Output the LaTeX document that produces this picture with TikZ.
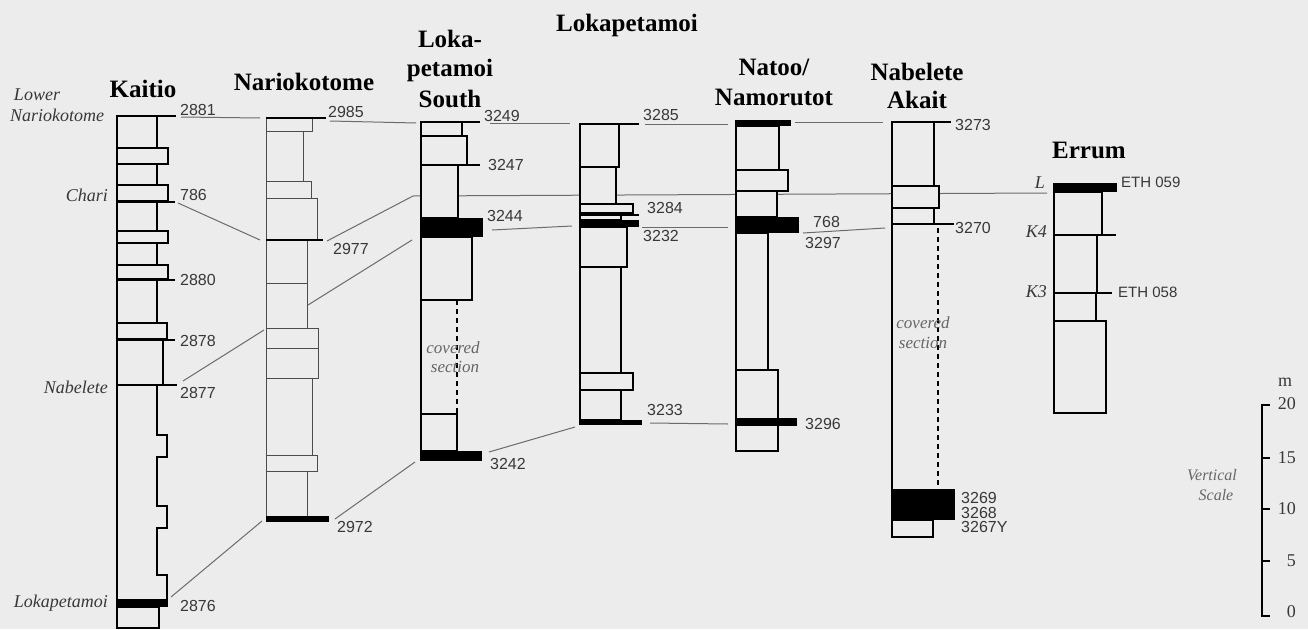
\documentclass[tikz,border=0pt]{standalone}
\usepackage{fontspec}
\setmainfont{Liberation Serif}
\setsansfont{Liberation Sans}
\definecolor{bg}{gray}{0.925}
\definecolor{lbl}{gray}{0.22}
\definecolor{corrc}{gray}{0.42}
\tikzset{
  bed/.style={draw=black, fill=bg, line width=1.3pt},
  nbed/.style={draw=black!70, fill=bg, line width=0.9pt},
  marker/.style={draw=black, line width=2.8pt},
  thinmarker/.style={draw=black, line width=1.8pt},
  band/.style={fill=black},
  corr/.style={draw=corrc, line width=1pt},
  coverline/.style={draw=black, line width=1.6pt, dash pattern=on 5pt off 4pt},
  title/.style={font=\fontsize{25}{29}\selectfont\bfseries, anchor=base, inner sep=0pt},
  num/.style={font=\sffamily\fontsize{16}{16}\selectfont, text=lbl, anchor=west, inner sep=0pt},
  eth/.style={font=\sffamily\fontsize{15}{15}\selectfont, text=lbl, anchor=west, inner sep=0pt},
  place/.style={font=\itshape\fontsize{18}{18}\selectfont, text=lbl, anchor=east, inner sep=0pt},
  cov/.style={font=\itshape\fontsize{17}{17}\selectfont, text=black!60, inner sep=0pt},
  scalenum/.style={font=\fontsize{18}{18}\selectfont, text=lbl, anchor=east, inner sep=0pt},
}
\begin{document}
\begin{tikzpicture}[x=1pt,y=-1pt]
\fill[bg] (0,0) rectangle (1308,629);
\useasboundingbox (0,0) rectangle (1308,629);

% ---------- correlation line end points ----------
\coordinate (c1a) at (181,117);  \coordinate (c1b) at (260,118);
\coordinate (c2a) at (330,121);  \coordinate (c2b) at (416,123);
\coordinate (c3a) at (490,123);  \coordinate (c3b) at (570,123);
\coordinate (c4a) at (645,124);  \coordinate (c4b) at (728,124);
\coordinate (c5a) at (795,122);  \coordinate (c5b) at (883,122);
\coordinate (c6a) at (178,203);  \coordinate (c6b) at (260,240);
\coordinate (c7a) at (327,241);  \coordinate (c7b) at (413,196); \coordinate (c7c) at (1047,193);
\coordinate (c8a) at (308,305);  \coordinate (c8b) at (412,240);
\coordinate (c9a) at (183,381);  \coordinate (c9b) at (264,330);
\coordinate (c10a) at (171,597); \coordinate (c10b) at (262,521);
\coordinate (c11a) at (335,519); \coordinate (c11b) at (415,462);
\coordinate (c12a) at (489,452); \coordinate (c12b) at (575,427);
\coordinate (c13a) at (650,423); \coordinate (c13b) at (728,424);
\coordinate (c14a) at (492,230); \coordinate (c14b) at (572,226);
\coordinate (c15a) at (642,227); \coordinate (c15b) at (728,227);
\coordinate (c16a) at (803,233); \coordinate (c16b) at (885,228);

\draw[corr] (c1a) -- (c1b);
\draw[corr] (c2a) -- (c2b);
\draw[corr] (c3a) -- (c3b);
\draw[corr] (c4a) -- (c4b);
\draw[corr] (c5a) -- (c5b);
\draw[corr] (c6a) -- (c6b);
\draw[corr] (c7a) -- (c7b) -- (c7c);
\draw[corr] (c8a) -- (c8b);
\draw[corr] (c9a) -- (c9b);
\draw[corr] (c10a) -- (c10b);
\draw[corr] (c11a) -- (c11b);
\draw[corr] (c12a) -- (c12b);
\draw[corr] (c13a) -- (c13b);
\draw[corr] (c14a) -- (c14b);
\draw[corr] (c15a) -- (c15b);
\draw[corr] (c16a) -- (c16b);

% ---------- Kaitio ----------
\draw[bed] (117,116) rectangle (157,148);
\draw[bed] (117,148) rectangle (168,164);
\draw[bed] (117,164) rectangle (157,185);
\draw[bed] (117,185) rectangle (168,201);
\draw[bed] (117,201) rectangle (157,231);
\draw[bed] (117,231) rectangle (168,243);
\draw[bed] (117,243) rectangle (157,265);
\draw[bed] (117,265) rectangle (168,279);
\draw[bed] (117,279) rectangle (157,323);
\draw[bed] (117,323) rectangle (167,339);
\draw[bed] (117,339) rectangle (163,385);
\draw[bed] (117,385) -- (157,385) -- (157,435) -- (167,435) -- (167,457) -- (157,457)
  -- (157,506) -- (167,506) -- (167,528) -- (157,528) -- (157,575) -- (167,575)
  -- (167,600) -- (117,600) -- cycle;
\draw[bed] (117,607) rectangle (159,628);
\fill[band] (116.3,600) rectangle (168,607);
\draw[marker] (116.3,116) -- (176,116);
\draw[marker] (116.3,202) -- (175,202);
\draw[marker] (116.3,280) -- (175,280);
\draw[marker] (116.3,340) -- (175,340);
\draw[marker] (116.3,385) -- (177,385);

% ---------- Nariokotome ----------
\draw[nbed] (266,118) rectangle (312,131);
\draw[nbed] (266,131) rectangle (303,181);
\draw[nbed] (266,181) rectangle (311,198);
\draw[nbed] (266,198) rectangle (317,240);
\draw[nbed] (266,240) rectangle (307,283);
\draw[nbed] (266,283) rectangle (307,328);
\draw[nbed] (266,328) rectangle (318,348);
\draw[nbed] (266,348) rectangle (318,378);
\draw[nbed] (266,378) rectangle (312,455);
\draw[nbed] (266,455) rectangle (317,471);
\draw[nbed] (266,471) rectangle (307,516);
\fill[band] (265.5,515.5) rectangle (329,522);
\draw[marker] (265.5,118) -- (326,118);
\draw[marker] (265.5,240) -- (323,240);

% ---------- Lokapetamoi South ----------
\draw[bed] (421,122) rectangle (462,136);
\draw[bed] (421,136) rectangle (467,165);
\draw[bed] (421,165) rectangle (458,218);
\draw[bed] (421,237) rectangle (472,300);
\draw[bed] (421,414) rectangle (457,451);
\draw[bed] (421,300) -- (421,414);
\draw[coverline] (457,300) -- (457,414);
\fill[band] (420.3,218) rectangle (483,237);
\fill[band] (420.3,451) rectangle (482,461);
\draw[marker] (420.3,122) -- (480,122);
\draw[thinmarker] (420.3,136) -- (467,136);
\draw[marker] (420.3,165) -- (480,165);

% ---------- Lokapetamoi ----------
\draw[bed] (580,124) rectangle (619,167);
\draw[bed] (580,167) rectangle (616,204);
\draw[bed] (580,204) rectangle (633,213);
\draw[bed] (580,215) rectangle (621,220);
\draw[bed] (580,227) rectangle (627,267);
\draw[bed] (580,267) rectangle (621,373);
\draw[bed] (580,373) rectangle (633,390);
\draw[bed] (580,390) rectangle (621,420);
\fill[band] (579.3,219.5) rectangle (639,227);
\fill[band] (579.3,419.5) rectangle (642,424.5);
\draw[marker] (579.3,124) -- (639,124);
\draw[thinmarker] (579.3,215) -- (639,215);

% ---------- Natoo / Namorutot ----------
\draw[bed] (736,126) rectangle (779,170);
\draw[bed] (736,170) rectangle (788,191);
\draw[bed] (736,191) rectangle (777,217);
\draw[bed] (736,233) rectangle (768,370);
\draw[bed] (736,370) rectangle (778,451);
\fill[band] (735.3,120) rectangle (791,126);
\fill[band] (735.3,217) rectangle (799,233);
\fill[band] (735.3,418) rectangle (797,426);

% ---------- Nabelete Akait ----------
\draw[bed] (892,122) rectangle (934,186);
\draw[bed] (892,186) rectangle (939,208);
\draw[bed] (892,208) rectangle (934,224);
\draw[bed] (892,224) -- (892,489);
\draw[coverline] (938,228) -- (938,489);
\draw[bed] (892,520) rectangle (933,537);
\fill[band] (891.3,489) rectangle (955,520);
\draw[marker] (891.3,122) -- (951,122);
\draw[marker] (891.3,224) -- (954,224);

% ---------- Errum ----------
\draw[bed] (1054,192) rectangle (1102,235);
\draw[bed] (1054,235) rectangle (1097,293);
\draw[bed] (1054,293) rectangle (1096,321);
\draw[bed] (1054,321) rectangle (1106,413);
\fill[band] (1053.3,183) rectangle (1117,192);
\draw[thinmarker] (1053.3,235) -- (1116,235);
\draw[marker] (1053.3,293) -- (1112,293);

% ---------- vertical scale ----------
\draw[line width=1.3pt] (1270,405) -- (1262,405) -- (1262,616) -- (1270,616);
\draw[line width=1.3pt] (1262,458) -- (1270,458);
\draw[line width=1.3pt] (1262,509) -- (1270,509);
\draw[line width=1.3pt] (1262,561) -- (1270,561);
\node[scalenum] (s20) at (1296,404) {20};
\node[scalenum] (s15) at (1296,458) {15};
\node[scalenum] (s10) at (1296,509) {10};
\node[scalenum] (s5) at (1296,561) {5};
\node[scalenum] (s0) at (1296,612) {0};
\node[font=\fontsize{18}{18}\selectfont, text=lbl, inner sep=0pt] (sm) at (1285,382) {m};
\node[cov, font=\itshape\fontsize{16}{16}\selectfont] (vs1) at (1212,475) {Vertical};
\node[cov, font=\itshape\fontsize{16}{16}\selectfont] (vs2) at (1216,495) {Scale};

% ---------- titles ----------
\node[title] (tk) at (143,97) {Kaitio};
\node[title] (tn) at (304,90) {Nariokotome};
\node[title] (tls1) at (450,47) {Loka-};
\node[title] (tls2) at (450,76) {petamoi};
\node[title] (tls3) at (450,107) {South};
\node[title] (tl) at (627,31) {Lokapetamoi};
\node[title] (tna1) at (774,75) {Natoo/};
\node[title] (tna2) at (774,105) {Namorutot};
\node[title] (tnb1) at (917,80) {Nabelete};
\node[title] (tnb2) at (917,108) {Akait};
\node[title] (te) at (1089,158) {Errum};

% ---------- place labels ----------
\node[place, anchor=center] (pl1) at (37,95) {Lower};
\node[place, anchor=center] (pl2) at (57,115) {Nariokotome};
\node[place] (pch) at (108,195) {Chari};
\node[place] (pnb) at (108,387) {Nabelete};
\node[place] (plk) at (108,603) {Lokapetamoi};
\node[place] (pL) at (1045,183) {L};
\node[place] (pK4) at (1047,232) {K4};
\node[place] (pK3) at (1047,292) {K3};

% ---------- covered section ----------
\node[cov] (cv1) at (453,348) {covered};
\node[cov] (cv2) at (455,367) {section};
\node[cov] (cv3) at (923,323) {covered};
\node[cov] (cv4) at (923,343) {section};

% ---------- sample numbers ----------
\node[num] (n2881) at (180,110) {2881};
\node[num] (n786) at (180,195) {786};
\node[num] (n2880) at (180,280) {2880};
\node[num] (n2878) at (180,341) {2878};
\node[num] (n2877) at (180,393) {2877};
\node[num] (n2876) at (180,606) {2876};
\node[num] (n2985) at (328,112) {2985};
\node[num] (n2977) at (333,249) {2977};
\node[num] (n2972) at (337,527) {2972};
\node[num] (n3249) at (484,116) {3249};
\node[num] (n3247) at (488,165) {3247};
\node[num] (n3244) at (487,216) {3244};
\node[num] (n3242) at (490,464) {3242};
\node[num] (n3285) at (643,115) {3285};
\node[num] (n3284) at (647,208) {3284};
\node[num] (n3232) at (643,236) {3232};
\node[num] (n3233) at (647,410) {3233};
\node[num] (n768) at (813,222) {768};
\node[num] (n3297) at (805,243) {3297};
\node[num] (n3296) at (805,424) {3296};
\node[num] (n3273) at (955,125) {3273};
\node[num] (n3270) at (955,228) {3270};
\node[num] (n3269) at (961,498) {3269};
\node[num] (n3268) at (961,513) {3268};
\node[num] (n3267) at (961,527) {3267Y};
\node[eth] (e059) at (1121,182) {ETH 059};
\node[eth] (e058) at (1118,292) {ETH 058};
\end{tikzpicture}
\end{document}
